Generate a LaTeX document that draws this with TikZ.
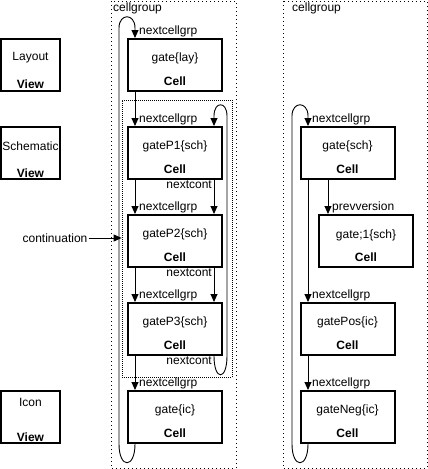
\documentclass[tikz,border=0pt]{standalone}
\usepackage{fontspec}
\setmainfont{Liberation Sans}
\usetikzlibrary{arrows.meta}

\tikzset{
  cellbox/.style={draw, line width=2pt, minimum width=94pt, minimum height=52pt, inner sep=0pt},
  viewbox/.style={draw, line width=2pt, minimum width=59pt, minimum height=52pt, inner sep=0pt},
  txt/.style={inner sep=1pt, font=\fontsize{12}{14}\selectfont},
  link/.style={line width=0.9pt, -{Triangle[width=7pt,length=8pt]}},
  grpbox/.style={line width=1pt, dash pattern=on 1pt off 3pt},
  contbox/.style={draw, line width=0.8pt, dash pattern=on 1pt off 1pt, inner sep=0pt},
}

\begin{document}
\begin{tikzpicture}[x=1pt, y=-1pt]
        \useasboundingbox (0,0) rectangle (428,469);

        % Cell groups
        \draw[grpbox] (111,1) rectangle (236,468);
        \node[txt, anchor=west] (grpA) at (112,8) {cellgroup};
        \draw[grpbox] (283,1) rectangle (427,468);
        \node[txt, anchor=west] (grpB) at (291,8) {cellgroup};

        % Continuation group
        \node[contbox, minimum width=110pt, minimum height=277pt] (cont) at (177,238.5) {};

        % Views
        \node[viewbox] (vlay) at (30.5,65) {};
        \node[txt] (vlay-n) at (30.5,58) {Layout};
        \node[txt] (vlay-t) at (30.5,84) {\textbf{View}};

        \node[viewbox] (vsch) at (30.5,153) {};
        \node[txt] (vsch-n) at (30.5,146) {Schematic};
        \node[txt] (vsch-t) at (30.5,173) {\textbf{View}};

        \node[viewbox] (vic) at (30.5,417) {};
        \node[txt] (vic-n) at (30.5,402) {Icon};
        \node[txt] (vic-t) at (30.5,437) {\textbf{View}};

        % Cells, first cell group
        \node[cellbox] (lay) at (175,65) {};
        \node[txt] (lay-n) at (175,58) {gate\{lay\}};
        \node[txt] (lay-t) at (175,81) {\textbf{Cell}};

        \node[cellbox] (p1) at (175,153) {};
        \node[txt] (p1-n) at (175,146) {gateP1\{sch\}};
        \node[txt] (p1-t) at (175,169) {\textbf{Cell}};

        \node[cellbox] (p2) at (175,241) {};
        \node[txt] (p2-n) at (175,234) {gateP2\{sch\}};
        \node[txt] (p2-t) at (175,257) {\textbf{Cell}};

        \node[cellbox] (p3) at (175,329) {};
        \node[txt] (p3-n) at (175,322) {gateP3\{sch\}};
        \node[txt] (p3-t) at (175,345) {\textbf{Cell}};

        \node[cellbox] (ic) at (175,417) {};
        \node[txt] (ic-n) at (175,410) {gate\{ic\}};
        \node[txt] (ic-t) at (175,433) {\textbf{Cell}};

        % Cells, second cell group
        \node[cellbox] (sch) at (347.5,153) {};
        \node[txt] (sch-n) at (347.5,146) {gate\{sch\}};
        \node[txt] (sch-t) at (347.5,169) {\textbf{Cell}};

        \node[cellbox] (old) at (366,241) {};
        \node[txt] (old-n) at (366,235) {gate;1\{sch\}};
        \node[txt] (old-t) at (366,257) {\textbf{Cell}};

        \node[cellbox] (pos) at (347.5,329) {};
        \node[txt] (pos-n) at (347.5,322) {gatePos\{ic\}};
        \node[txt] (pos-t) at (347.5,345) {\textbf{Cell}};

        \node[cellbox] (neg) at (347.5,417) {};
        \node[txt] (neg-n) at (347.5,410) {gateNeg\{ic\}};
        \node[txt] (neg-t) at (347.5,433) {\textbf{Cell}};

        % Columns of the links
        \coordinate (grpL) at (135,0);
        \coordinate (contL) at (214,0);
        \coordinate (grpR) at (308,0);
        \coordinate (prevR) at (328,0);
        \coordinate (loopL) at (119,28);
        \coordinate (loopC) at (227,116);
        \coordinate (loopR) at (292,116);

        % nextcellgrp, first cell group
        \draw[link] (ic.south -| grpL) .. controls +(0,25) and +(0,25) .. (ic.south -| loopL)
            -- (loopL) .. controls +(0,-15) and +(0,-15) .. (loopL -| grpL) -- (lay.north -| grpL);
        \draw[link] (lay.south -| grpL) -- (p1.north -| grpL);
        \draw[link] (p1.south -| grpL) -- (p2.north -| grpL);
        \draw[link] (p2.south -| grpL) -- (p3.north -| grpL);
        \draw[link] (p3.south -| grpL) -- (ic.north -| grpL);
        \node[txt, anchor=south west] (lay-g) at (lay.north -| 138,0) {nextcellgrp};
        \node[txt, anchor=south west] (p1-g) at (p1.north -| 138,0) {nextcellgrp};
        \node[txt, anchor=south west] (p2-g) at (p2.north -| 138,0) {nextcellgrp};
        \node[txt, anchor=south west] (p3-g) at (p3.north -| 138,0) {nextcellgrp};
        \node[txt, anchor=south west] (ic-g) at (ic.north -| 138,0) {nextcellgrp};

        % nextcont
        \draw[link] (p3.south -| contL) .. controls +(0,25) and +(0,25) .. (p3.south -| loopC)
            -- (loopC) .. controls +(0,-15) and +(0,-15) .. (loopC -| contL) -- (p1.north -| contL);
        \draw[link] (p1.south -| contL) -- (p2.north -| contL);
        \draw[link] (p2.south -| contL) -- (p3.north -| contL);
        \node[txt, anchor=north east] (p1-c) at (p1.south -| 213,0) {nextcont};
        \node[txt, anchor=north east] (p2-c) at (p2.south -| 213,0) {nextcont};
        \node[txt, anchor=north east] (p3-c) at (p3.south -| 213,0) {nextcont};

        % continuation
        \node[txt] (contlbl) at (55,238) {continuation};
        \draw[link] (contlbl.east) -- (contlbl.east -| cont.west);

        % nextcellgrp, second cell group
        \draw[link] (neg.south -| grpR) .. controls +(0,25) and +(0,25) .. (neg.south -| loopR)
            -- (loopR) .. controls +(0,-15) and +(0,-15) .. (loopR -| grpR) -- (sch.north -| grpR);
        \draw[link] (sch.south -| grpR) -- (pos.north -| grpR);
        \draw[link] (pos.south -| grpR) -- (neg.north -| grpR);
        \node[txt, anchor=south west] (sch-g) at (sch.north -| 311,0) {nextcellgrp};
        \node[txt, anchor=south west] (pos-g) at (pos.north -| 311,0) {nextcellgrp};
        \node[txt, anchor=south west] (neg-g) at (neg.north -| 311,0) {nextcellgrp};

        % prevversion
        \draw[link] (sch.south -| prevR) -- (old.north -| prevR);
        \node[txt, anchor=south west] (old-p) at (old.north -| 331,0) {prevversion};
    \end{tikzpicture}
\end{document}
